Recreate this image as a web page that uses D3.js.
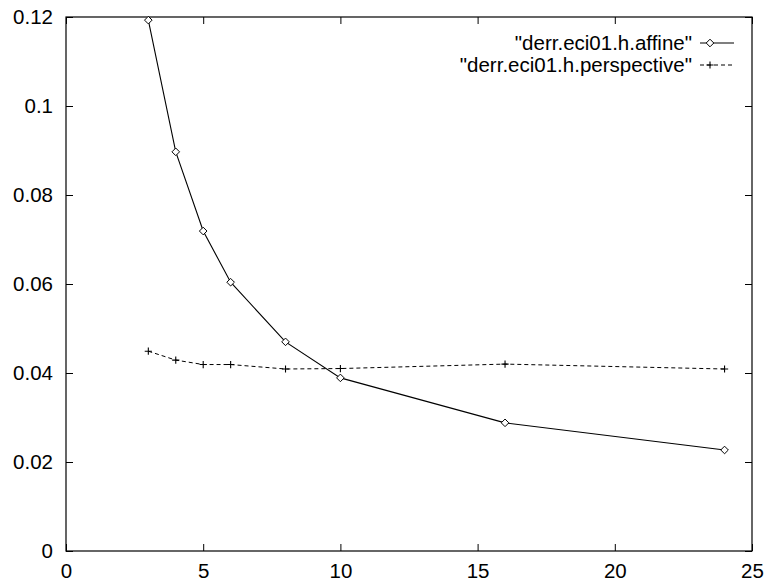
<!DOCTYPE html>
<html><head><meta charset="utf-8">
<script src="https://cdn.jsdelivr.net/npm/d3@7"></script>
<style>body{margin:0;background:#fff}svg{display:block}text{font-family:"Liberation Sans",Arial,sans-serif;fill:#000}</style>
</head><body>
<svg id="c" width="767" height="582"></svg>
<script>
const xValues = [3, 4, 5, 6, 8, 10, 16, 24];
const affine = [0.1193, 0.0897, 0.0719, 0.0604, 0.0470, 0.0389, 0.0288, 0.0227];
const perspective = [0.0449, 0.0429, 0.0419, 0.0419, 0.0409, 0.0410, 0.0420, 0.0409];
const seriesNames = ['"derr.eci01.h.affine"', '"derr.eci01.h.perspective"'];
const xTicks = [0, 5, 10, 15, 20, 25];
const yTicks = [0, 0.02, 0.04, 0.06, 0.08, 0.1, 0.12];

(function () {
const L = 66, R = 752, T = 17, B = 551;
const svg = d3.select("#c");
const x = d3.scaleLinear().domain([0, 25]).range([L, R]);
const y = d3.scaleLinear().domain([0, 0.12]).range([B, T]);
const fs = 20.5, tl = 7;

const g = svg.append("g");
const axB = d3.axisBottom(x).tickValues(xTicks).tickSizeInner(-tl).tickSizeOuter(0).tickPadding(0).tickFormat(d3.format("d"));
const gb = g.append("g").attr("transform", `translate(0,${B})`).call(axB);
const axT = d3.axisTop(x).tickValues(xTicks).tickSizeInner(-tl).tickSizeOuter(0).tickFormat("");
const gt = g.append("g").attr("transform", `translate(0,${T})`).call(axT);
const axL = d3.axisLeft(y).tickValues(yTicks).tickSizeInner(-tl).tickSizeOuter(0).tickPadding(13).tickFormat(d => d === 0 ? "0" : String(+d.toFixed(2)));
const gl = g.append("g").attr("transform", `translate(${L},0)`).call(axL);
const axR = d3.axisRight(y).tickValues(yTicks).tickSizeInner(-tl).tickSizeOuter(0).tickFormat("");
const gr = g.append("g").attr("transform", `translate(${R},0)`).call(axR);
[gb, gt, gl, gr].forEach(a => {
  a.select(".domain").remove();
  a.selectAll("line").attr("stroke", "#000");
  a.selectAll("text").style("font-size", fs + "px").style("font-family", '"Liberation Sans",Arial,sans-serif').attr("fill", "#000");
});
gb.selectAll("text").attr("y", 27).attr("dy", "0");

svg.append("rect").attr("x", L).attr("y", T).attr("width", R - L).attr("height", B - T)
  .attr("fill", "none").attr("stroke", "#000").attr("stroke-width", 1.2);

const line = d3.line().x(d => x(d[0])).y(d => y(d[1]));
const dA = xValues.map((v, i) => [v, affine[i]]);
const dP = xValues.map((v, i) => [v, perspective[i]]);

svg.append("path").attr("d", line(dP)).attr("fill", "none").attr("stroke", "#000").attr("stroke-width", 1).attr("stroke-dasharray", "4,3");
svg.append("path").attr("d", line(dA)).attr("fill", "none").attr("stroke", "#000").attr("stroke-width", 1.1);

function diamond(sel, cx, cy) {
  const s = 3.8;
  sel.append("path").attr("d", `M${cx},${cy - s}L${cx + s},${cy}L${cx},${cy + s}L${cx - s},${cy}Z`)
    .attr("fill", "#fff").attr("stroke", "#000").attr("stroke-width", 1);
}
function plus(sel, cx, cy) {
  const s = 3.6;
  sel.append("path").attr("d", `M${cx - s},${cy}H${cx + s}M${cx},${cy - s}V${cy + s}`)
    .attr("fill", "none").attr("stroke", "#000").attr("stroke-width", 1.1);
}
dA.forEach(d => diamond(svg, x(d[0]), y(d[1])));
dP.forEach(d => plus(svg, x(d[0]), y(d[1])));

const lx1 = 700, lx2 = 734, lm = 710, ly = [43, 65], tx = 692;
svg.append("text").attr("x", tx).attr("y", ly[0]).attr("dy", "0.35em").attr("text-anchor", "end").style("font-size", fs + "px").text(seriesNames[0]);
svg.append("text").attr("x", tx).attr("y", ly[1]).attr("dy", "0.35em").attr("text-anchor", "end").style("font-size", fs + "px").text(seriesNames[1]);
svg.append("line").attr("x1", lx1).attr("x2", lx2).attr("y1", ly[0]).attr("y2", ly[0]).attr("stroke", "#000").attr("stroke-width", 1.1);
diamond(svg, lm, ly[0]);
svg.append("line").attr("x1", lx1).attr("x2", lx2).attr("y1", ly[1]).attr("y2", ly[1]).attr("stroke", "#000").attr("stroke-width", 1).attr("stroke-dasharray", "4,3");
plus(svg, lm, ly[1]);
})();
</script>
</body></html>
